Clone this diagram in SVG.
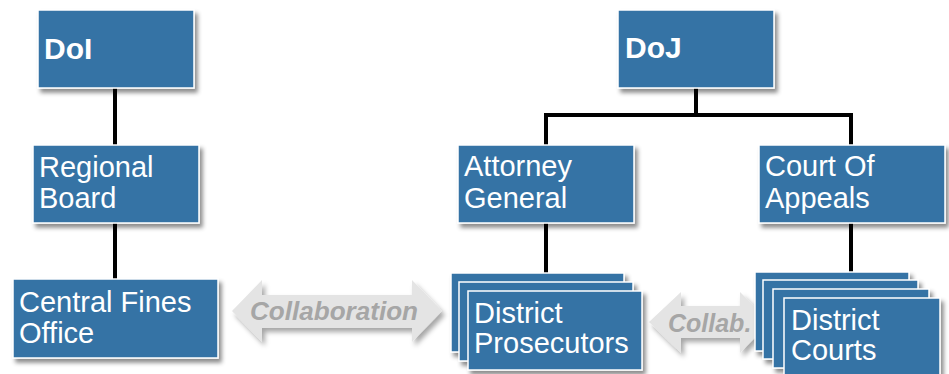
<svg xmlns="http://www.w3.org/2000/svg" width="949" height="374" viewBox="0 0 949 374">
<defs>
<filter id="sh" x="-10%" y="-10%" width="130%" height="140%">
<feDropShadow dx="3" dy="4" stdDeviation="2" flood-color="#000" flood-opacity="0.45"/>
</filter>
<filter id="ash" x="-10%" y="-20%" width="130%" height="150%">
<feDropShadow dx="3" dy="4" stdDeviation="2.5" flood-color="#000" flood-opacity="0.35"/>
</filter>
</defs>
<style>
.box{fill:#3473a5;stroke:#ffffff;stroke-width:1.5;filter:url(#sh)}
.t{font-family:"Liberation Sans",Arial,sans-serif;font-size:29px;fill:#ffffff}
.tb{font-family:"Liberation Sans",Arial,sans-serif;font-size:30px;font-weight:bold;fill:#ffffff}
.ln{stroke:#000;stroke-width:4;fill:none}
.arr{fill:#e4e4e4;filter:url(#ash)}
.at{font-family:"Liberation Sans",Arial,sans-serif;font-size:25px;font-weight:bold;font-style:italic;fill:#a6a6a6}
</style>
<rect width="949" height="374" fill="#ffffff"/>
<g id="connectors">
<line class="ln" x1="115" y1="88" x2="115" y2="146"/>
<line class="ln" x1="115" y1="222" x2="115" y2="280"/>
<line class="ln" x1="696" y1="88" x2="696" y2="115"/>
<polyline class="ln" points="546,146 546,115 851,115 851,146"/>
<line class="ln" x1="546" y1="222" x2="546" y2="292"/>
<line class="ln" x1="851" y1="222" x2="851" y2="292"/>
</g>
<g id="collab1">
<polygon class="arr" points="232,311 262,280 262,295 412,295 412,280 442,311 412,342 412,328 262,328 262,342"/>
<text class="at" x="250" y="320" textLength="168" lengthAdjust="spacingAndGlyphs">Collaboration</text>
</g>
<g id="collab2">
<polygon class="arr" points="649,322 681,292 681,306 740,306 740,292 770,322 740,353 740,338 681,338 681,353"/>
<text class="at" x="668" y="332">Collab.</text>
</g>
<g id="doi">
<rect class="box" x="38" y="10" width="156" height="78"/>
<text class="tb" x="44" y="59">DoI</text>
</g>
<g id="regional-board">
<rect class="box" x="33" y="145" width="166" height="78"/>
<text class="t" x="39" y="177">Regional</text>
<text class="t" x="39" y="208">Board</text>
</g>
<g id="central-fines-office">
<rect class="box" x="13" y="279" width="205" height="79"/>
<text class="t" x="19" y="312">Central Fines</text>
<text class="t" x="19" y="343">Office</text>
</g>
<g id="doj">
<rect class="box" x="618" y="10" width="156" height="78"/>
<text class="tb" x="625" y="58">DoJ</text>
</g>
<g id="attorney-general">
<rect class="box" x="458" y="145" width="176" height="78"/>
<text class="t" x="464" y="176">Attorney</text>
<text class="t" x="464" y="208">General</text>
</g>
<g id="court-of-appeals">
<rect class="box" x="759" y="145" width="186" height="78"/>
<text class="t" x="765" y="176">Court Of</text>
<text class="t" x="765" y="208">Appeals</text>
</g>
<g id="district-prosecutors">
<rect class="box" x="451" y="273" width="173" height="79"/>
<rect class="box" x="459" y="282" width="174" height="79"/>
<rect class="box" x="468" y="291" width="174" height="79"/>
<text class="t" x="474" y="323">District</text>
<text class="t" x="474" y="353">Prosecutors</text>
</g>
<g id="district-courts">
<rect class="box" x="755" y="272" width="154" height="79"/>
<rect class="box" x="763" y="280" width="155" height="79"/>
<rect class="box" x="773" y="289" width="156" height="79"/>
<rect class="box" x="784" y="298" width="156" height="79"/>
<text class="t" x="791" y="330">District</text>
<text class="t" x="791" y="360">Courts</text>
</g>
</svg>
